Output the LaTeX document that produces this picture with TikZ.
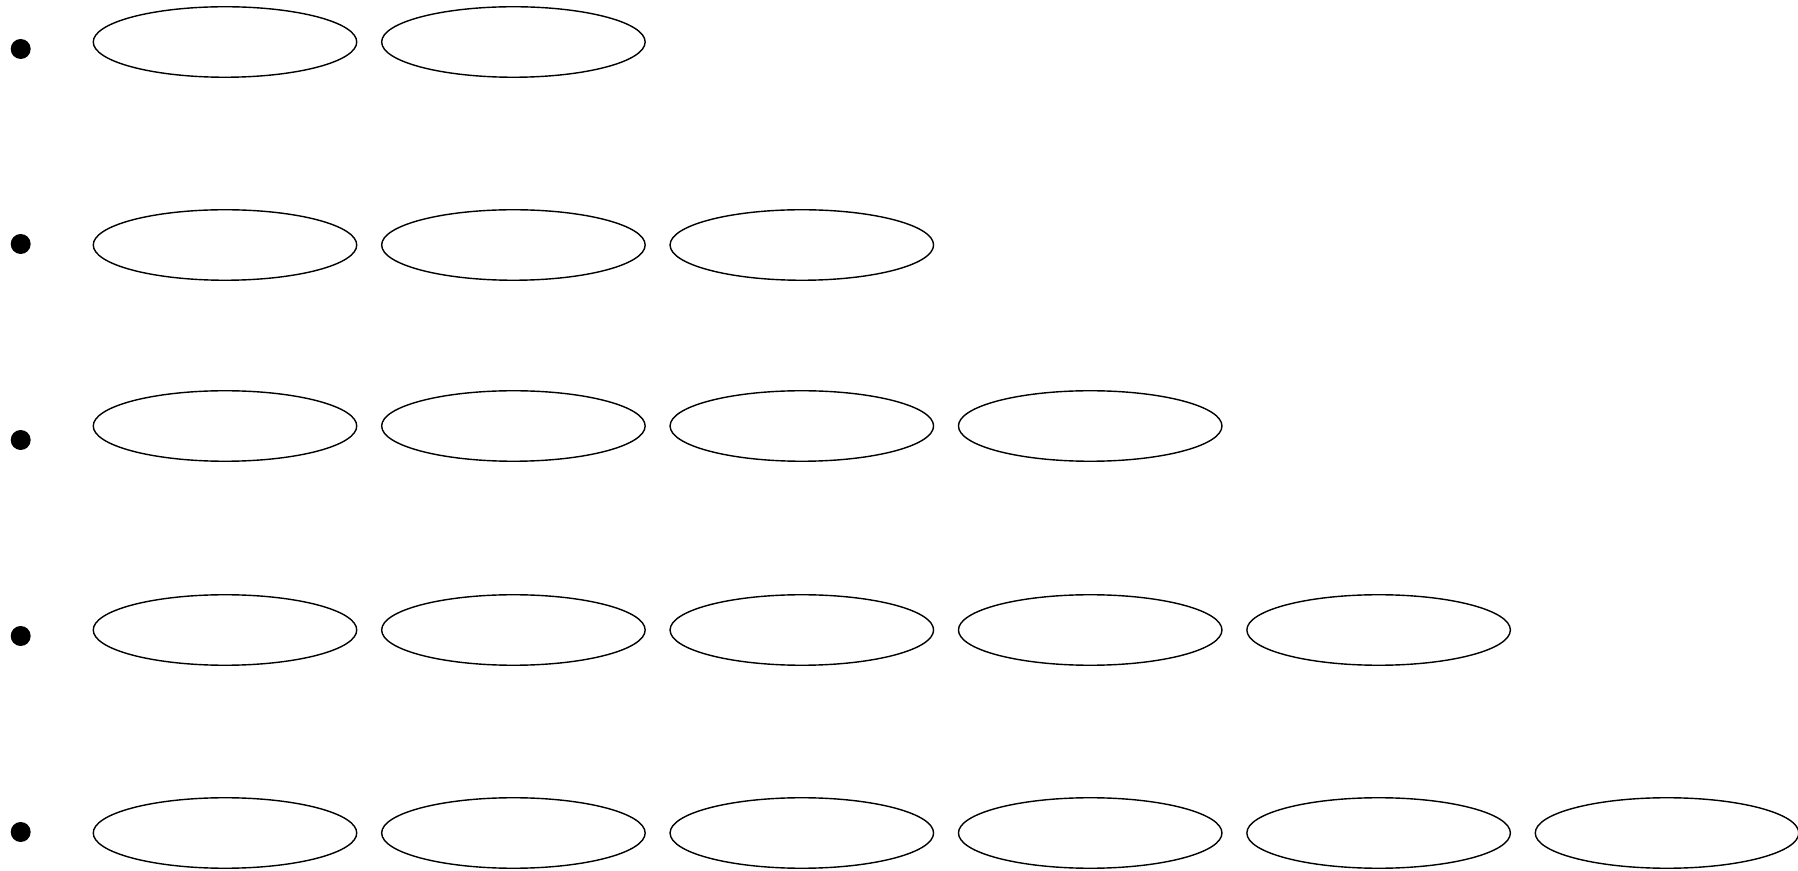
\documentclass[tikz,border=0pt]{standalone}
\usepackage{tikz}
\usetikzlibrary{
  positioning,
  shapes.geometric,
}

\begin{document}
\begin{tikzpicture}[
  node distance=0.47cm,
  dot/.style={circle, fill=black, inner sep=0pt, minimum size=0.4cm},
  oval/.style={ellipse, draw, line width=0.8pt, inner sep=0pt, minimum width=5.27cm, minimum height=1.41cm},
]
  \useasboundingbox (0,0) rectangle (35.96,-17.42);

  % Bullets
  \node[dot] (b1) at (0.414,-0.98) {};
  \node[dot] (b2) at (0.414,-4.88) {};
  \node[dot] (b3) at (0.414,-8.80) {};
  \node[dot] (b4) at (0.414,-12.72) {};
  \node[dot] (b5) at (0.414,-16.64) {};

  % Row 1
  \node[oval] (e11) at (4.50,-0.84) {};
  \node[oval, right=of e11] (e12) {};

  % Row 2
  \node[oval] (e21) at (4.50,-4.90) {};
  \node[oval, right=of e21] (e22) {};
  \node[oval, right=of e22] (e23) {};

  % Row 3
  \node[oval] (e31) at (4.50,-8.52) {};
  \node[oval, right=of e31] (e32) {};
  \node[oval, right=of e32] (e33) {};
  \node[oval, right=of e33] (e34) {};

  % Row 4
  \node[oval] (e41) at (4.50,-12.60) {};
  \node[oval, right=of e41] (e42) {};
  \node[oval, right=of e42] (e43) {};
  \node[oval, right=of e43] (e44) {};
  \node[oval, right=of e44] (e45) {};

  % Row 5
  \node[oval] (e51) at (4.50,-16.66) {};
  \node[oval, right=of e51] (e52) {};
  \node[oval, right=of e52] (e53) {};
  \node[oval, right=of e53] (e54) {};
  \node[oval, right=of e54] (e55) {};
  \node[oval, right=of e55] (e56) {};

\end{tikzpicture}
\end{document}
